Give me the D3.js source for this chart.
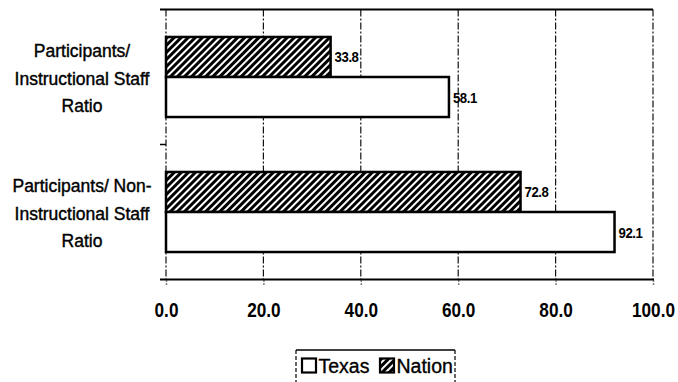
<!DOCTYPE html>
<html><head><meta charset="utf-8">
<script src="https://cdn.jsdelivr.net/npm/d3@7"></script>
<style>
html,body{margin:0;padding:0;background:#fff;}
svg{display:block;font-family:"Liberation Sans",Arial,sans-serif;}
</style></head>
<body><svg id="c" width="678" height="382"></svg>
<script>
const categories = ["Participants/ Instructional Staff Ratio", "Participants/ Non-Instructional Staff Ratio"];
const categoryLines = [["Participants/", "Instructional Staff", "Ratio"], ["Participants/ Non-", "Instructional Staff", "Ratio"]];
const seriesNames = ["Nation", "Texas"];
const nationValues = [33.8, 72.8];
const texasValues = [58.1, 92.1];
const tickValues = [0, 20, 40, 60, 80, 100];

const svg = d3.select("#c");
const L = 166, R = 653, T = 9.5, B = 279.5;

const defs = svg.append("defs");
const pat = defs.append("pattern").attr("id","hatch").attr("patternUnits","userSpaceOnUse")
  .attr("width",5).attr("height",5).attr("patternTransform","rotate(45)");
pat.append("rect").attr("width",5).attr("height",5).attr("fill","#000");
pat.append("rect").attr("x",0).attr("y",0).attr("width",2).attr("height",5).attr("fill","#fff");

const x = d3.scaleLinear().domain([0,100]).range([L,R]);
const y = d3.scaleBand().domain(categories).range([T,B]).paddingInner(0.407).paddingOuter(0.2035);
const ys = d3.scaleBand().domain(seriesNames).range([0, y.bandwidth()]);

// gridlines
svg.append("g").selectAll("line").data(tickValues).join("line")
  .attr("x1",d=>x(d)).attr("x2",d=>x(d)).attr("y1",T).attr("y2",B)
  .attr("stroke","#111").attr("stroke-width",1.2)
  .attr("stroke-dasharray", "7,2,2,2");

// frame top & bottom
svg.append("line").attr("x1",160).attr("x2",R).attr("y1",T).attr("y2",T).attr("stroke","#000").attr("stroke-width",2);
svg.append("line").attr("x1",160).attr("x2",R+1).attr("y1",B).attr("y2",B).attr("stroke","#000").attr("stroke-width",2);
// category separator tick
svg.append("line").attr("x1",160).attr("x2",L).attr("y1",T+135).attr("y2",T+135).attr("stroke","#000").attr("stroke-width",1.5);

// bottom axis
const xAxis = d3.axisBottom(x).tickValues(tickValues).tickFormat(d3.format(".1f")).tickSize(4).tickPadding(18);
const ax = svg.append("g").attr("transform",`translate(0,${B+1})`).call(xAxis);
ax.select(".domain").remove();
ax.selectAll(".tick line").attr("stroke","#000").attr("stroke-width",1.5).attr("stroke-dasharray","1,2");
ax.selectAll(".tick text").attr("font-size",20).attr("font-weight","bold").attr("fill","#000")
  .attr("font-family","'Liberation Sans',Arial,sans-serif")
  .attr("transform","scale(0.86,1)");

// bars
const groups = svg.append("g").selectAll("g").data(categories).join("g")
  .attr("transform",d=>`translate(0,${y(d)})`);
const rows = (i) => [{s:"Nation", v:nationValues[i]}, {s:"Texas", v:texasValues[i]}];
groups.each(function(c,i){
  const g = d3.select(this);
  g.selectAll("rect").data(rows(i)).join("rect")
    .attr("x",x(0)).attr("y",d=>ys(d.s)).attr("width",d=>x(d.v)-x(0)).attr("height",ys.bandwidth())
    .attr("fill",d=>d.s==="Nation"?"url(#hatch)":"#fff")
    .attr("stroke","#000").attr("stroke-width",2.5);
  g.selectAll("text").data(rows(i)).join("text")
    .attr("transform",d=>`translate(${x(d.v)+4},${ys(d.s)+ys.bandwidth()/2+5.5}) scale(0.88,1)`)
    .attr("font-size",15).attr("letter-spacing","-0.5").attr("font-weight","bold").attr("fill","#000")
    .text(d=>d.v.toFixed(1));
});

// category labels
categories.forEach((c,i)=>{
  const cy = y(c) + y.bandwidth()/2;
  const offs = [-26, 1.5, 29];
  categoryLines[i].forEach((t,j)=>{
    svg.append("text").attr("x",82).attr("y",cy+offs[j]+6).attr("text-anchor","middle")
      .attr("font-size",17.5).attr("fill","#000").attr("stroke","#000").attr("stroke-width",0.4)
      .text(t);
  });
});

// legend
const lg = svg.append("g");
lg.append("line").attr("x1",296).attr("x2",455).attr("y1",350).attr("y2",350).attr("stroke","#000").attr("stroke-width",1.3);
lg.append("line").attr("x1",296).attr("x2",296).attr("y1",350).attr("y2",382).attr("stroke","#000").attr("stroke-width",1.2).attr("stroke-dasharray","4,2");
lg.append("line").attr("x1",455).attr("x2",455).attr("y1",350).attr("y2",382).attr("stroke","#000").attr("stroke-width",1.2).attr("stroke-dasharray","4,2");
const legendItems = [{s:"Texas", x:302, fill:"#fff"}, {s:"Nation", x:380, fill:"url(#hatch)"}];
legendItems.forEach(d=>{
  lg.append("rect").attr("x",d.x).attr("y",358.5).attr("width",14).attr("height",14)
    .attr("fill",d.fill).attr("stroke","#000").attr("stroke-width",2.2);
  lg.append("text").attr("x",d.x+16.5).attr("y",372.5).attr("font-size",19.5).attr("fill","#000")
    .attr("stroke","#000").attr("stroke-width",0.35).text(d.s);
});
</script></body></html>
